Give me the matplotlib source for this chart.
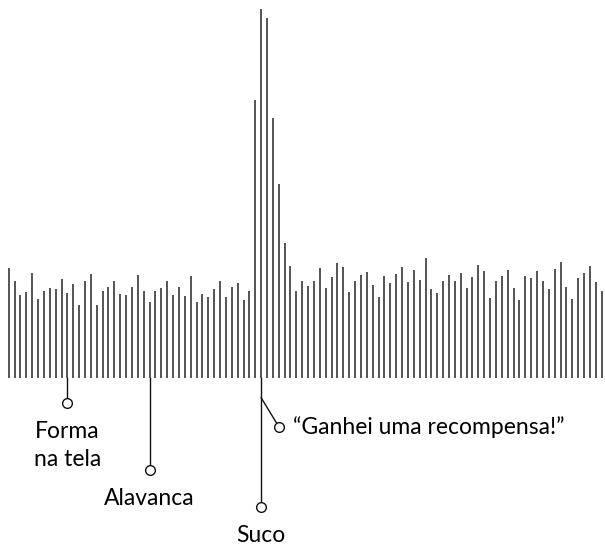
import numpy as np
import matplotlib
matplotlib.use("Agg")
import matplotlib.pyplot as plt

# spike heights (px above baseline), one per line
heights = [110, 97, 83, 86, 105, 79, 87, 90, 89, 99,
           85, 94, 73, 97, 104, 73, 87, 91, 97, 84,
           83, 91, 103, 87, 76, 87, 90, 97, 83, 91,
           82, 102, 76, 84, 81, 89, 97, 81, 91, 95,
           78, 87, 278, 369, 360, 260, 194, 135, 112, 87,
           97, 92, 97, 110, 90, 101, 115, 111, 86, 97,
           103, 106, 93, 81, 102, 95, 104, 111, 96, 108,
           98, 120, 89, 85, 97, 103, 97, 105, 90, 101,
           113, 107, 80, 97, 102, 108, 90, 78, 102, 100,
           107, 97, 89, 109, 116, 91, 79, 100, 105, 112,
           96, 87]

# annotations: label, line index, depth of the circle below baseline
labels = ["Forma\nna tela", "Alavanca", "Suco"]
label_idx = [10, 24, 43]
label_depth = [25, 92, 129]
reward_label = "\u201cGanhei uma recompensa!\u201d"

plt.rcParams['font.family'] = ['Lato', 'DejaVu Sans']

fig = plt.figure(figsize=(6.05, 5.45), dpi=100)
ax = fig.add_axes([0, 0, 1, 1])
ax.axis('off')

x = np.arange(len(heights))
ax.vlines(x, 0, heights, color='#262626', lw=1.1)

ax.set_xlim(-1.48, 101.57)
ax.set_ylim(-167.3, 377.7)

for lab, i, d in zip(labels, label_idx, label_depth):
    ax.plot([i, i], [0, -d + 3.5], color='#111', lw=1.0)
    ax.plot(i, -d, 'o', ms=7, mfc='white', mec='#111', mew=1.0)
    ax.text(i, -d - 18, lab, ha='center', va='top', fontsize=16.5,
            linespacing=1.4)

# diagonal pointer for the reward
i = label_idx[2]
ax.plot([i, i + 2.7], [-20, -46], color='#111', lw=1.0)
ax.plot(i + 3.0, -49, 'o', ms=7, mfc='white', mec='#111', mew=1.0)
ax.text(i + 5.4, -49, reward_label, ha='left', va='center', fontsize=16.5)

fig.savefig("out.png", dpi=100)
